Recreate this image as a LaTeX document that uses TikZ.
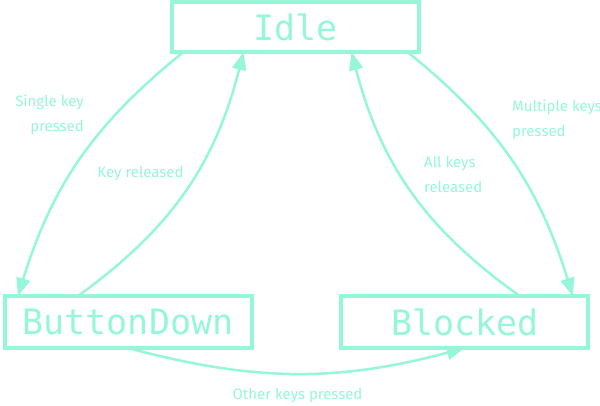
\documentclass[tikz,border=0pt]{standalone}
\usepackage{fontspec}
\newfontfamily\statefont{DejaVu Sans Mono}
\newfontfamily\labelfont{Fira Sans}
\usetikzlibrary{arrows.meta}
\definecolor{mint}{RGB}{150,246,216}

\begin{document}
\begin{tikzpicture}[x=1pt, y=1pt,
    state/.style={draw=mint, line width=4pt, text=mint, outer sep=0pt,
        minimum width=247pt, minimum height=52pt, font=\statefont\fontsize{35}{40}\selectfont},
    trans/.style={draw=mint, line width=2.5pt, -{Triangle[length=18pt, width=14pt]}},
    lbl/.style={text=mint, font=\labelfont\fontsize{15}{25}\selectfont, inner sep=0pt}]
    \useasboundingbox (0,0) rectangle (600,405);

    % States
    \node[state, minimum height=49.5pt] (idle) at (295.5,377.75) {Idle};
    \node[state] (btndown) at (128,83) {ButtonDown};
    \node[state] (blocked) at (464.75,83) {Blocked};

    % Transitions out of Idle
    \draw[trans] ([xshift=-112pt]idle.south) to[bend right=17] ([xshift=-110pt]btndown.north);
    \draw[trans] ([xshift=112pt]idle.south) to[bend left=17] ([xshift=108pt]blocked.north);

    % Back to Idle
    \draw[trans] ([xshift=-50pt]btndown.north) to[bend right=20] ([xshift=-52pt]idle.south);
    \draw[trans] ([xshift=55pt]blocked.north) to[bend left=20] ([xshift=56pt]idle.south);

    % Between the two lower states
    \draw[trans] (btndown.south) to[bend right=15] (blocked.south);

    % Labels
    \node[lbl, align=right, anchor=east] (singlekey) at (84,290) {Single key\\pressed};
    \node[lbl] (keyrel) at (140.5,232) {Key released};
    \node[lbl, align=left, anchor=west] (multikeys) at (512,285) {Multiple keys\\pressed};
    \node[lbl, align=left, anchor=west] (allrel) at (424,231) {All keys\\released};
    \node[lbl] (otherkeys) at (297.5,10) {Other keys pressed};
\end{tikzpicture}
\end{document}
